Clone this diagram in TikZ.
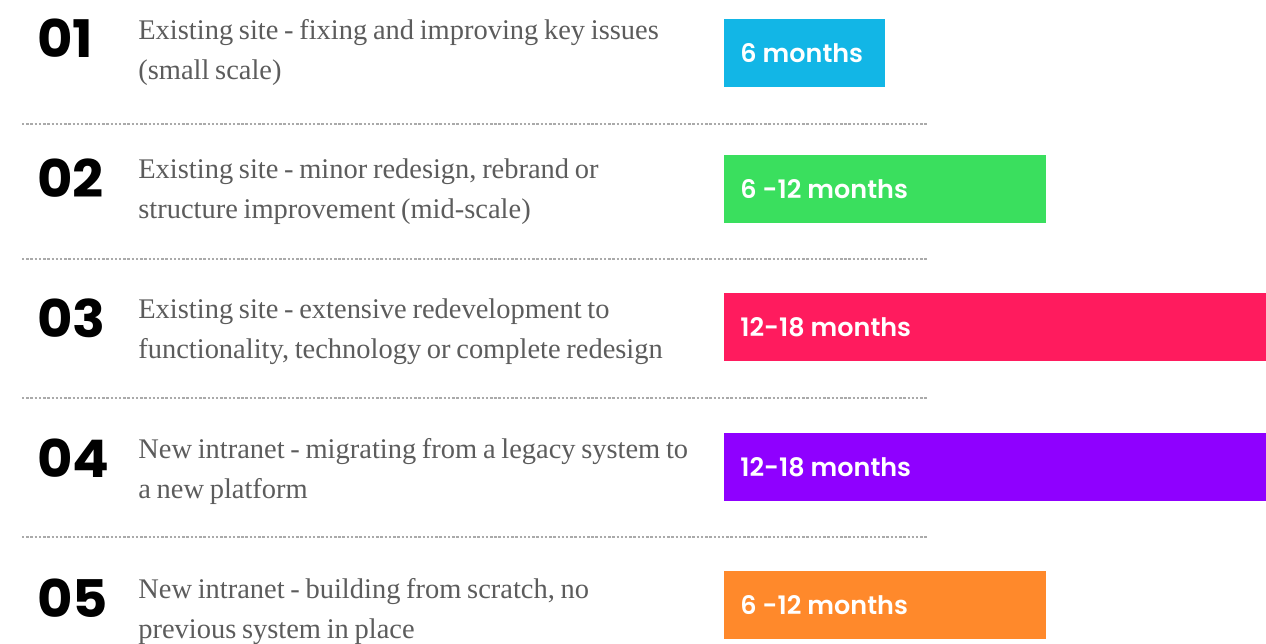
\documentclass[tikz,border=0pt]{standalone}
\usepackage{fontspec}
\setmainfont{Liberation Serif}[WordSpace=0.8]
\newfontfamily\numfont{Poppins}[FakeStretch=1.05]
\newfontfamily\barfont{Poppins SemiBold}
\usetikzlibrary{positioning}
\definecolor{barcyan}{HTML}{12B6E6}
\definecolor{bargreen}{HTML}{3ADF5E}
\definecolor{barpink}{HTML}{FF1B5E}
\definecolor{barpurple}{HTML}{8F00FF}
\definecolor{barorange}{HTML}{FF892B}
\definecolor{descgray}{HTML}{5C5C5C}
\definecolor{sepgray}{HTML}{AAAAAA}

\begin{document}
\begin{tikzpicture}[x=0.02cm,y=-0.02cm,
  num/.style={anchor=base west,inner sep=0pt,font=\numfont\bfseries\fontsize{29.5}{29.5}\selectfont},
  desc/.style={anchor=base west,inner sep=0pt,text width=11.6cm,align=flush left,text=descgray,
    font=\fontsize{16.2}{22.8}\selectfont},
  barbox/.style={anchor=north west,inner sep=0pt,minimum height=1.36cm,minimum width=#1},
  barlabel/.style={anchor=west,inner sep=0pt,text=white,font=\barfont\fontsize{14.5}{14.5}\selectfont},
  sep/.style={sepgray,line width=0.6pt,dash pattern=on 1.4pt off 1pt}]
\useasboundingbox (0,0) rectangle (1266,643);

% numbers
\node[num] (num1) at (37,57) {01};
\node[num] (num2) at (37,197) {02};
\node[num] (num3) at (37,337) {03};
\node[num] (num4) at (37,477) {04};
\node[num] (num5) at (37,617) {05};

% descriptions
\node[desc] (desc1) at (138,39) {Existing site - fixing and improving key issues\\(small scale)};
\node[desc] (desc2) at (138,178) {Existing site - minor redesign, rebrand or\\structure improvement (mid-scale)};
\node[desc] (desc3) at (138,318) {Existing site - extensive redevelopment to\\functionality, technology or complete redesign};
\node[desc] (desc4) at (138,458) {New intranet - migrating from a legacy system to\\a new platform};
\node[desc] (desc5) at (138,598) {New intranet - building from scratch, no\\previous system in place};

% bars
\node[barbox=3.22cm,fill=barcyan] (bar1) at (724,19) {};
\node[barbox=6.44cm,fill=bargreen] (bar2) at (724,155) {};
\node[barbox=10.84cm,fill=barpink] (bar3) at (724,293) {};
\node[barbox=10.84cm,fill=barpurple] (bar4) at (724,433) {};
\node[barbox=6.44cm,fill=barorange] (bar5) at (724,571) {};
\node[barlabel,right=0.32cm of bar1.west] (lab1) {6 months};
\node[barlabel,right=0.32cm of bar2.west] (lab2) {6 -12 months};
\node[barlabel,right=0.32cm of bar3.west] (lab3) {12-18 months};
\node[barlabel,right=0.32cm of bar4.west] (lab4) {12-18 months};
\node[barlabel,right=0.32cm of bar5.west] (lab5) {6 -12 months};

% separators
\draw[sep] (22,124) -- (928,124);
\draw[sep] (22,259) -- (928,259);
\draw[sep] (22,398) -- (928,398);
\draw[sep] (22,537) -- (928,537);
\end{tikzpicture}
\end{document}
